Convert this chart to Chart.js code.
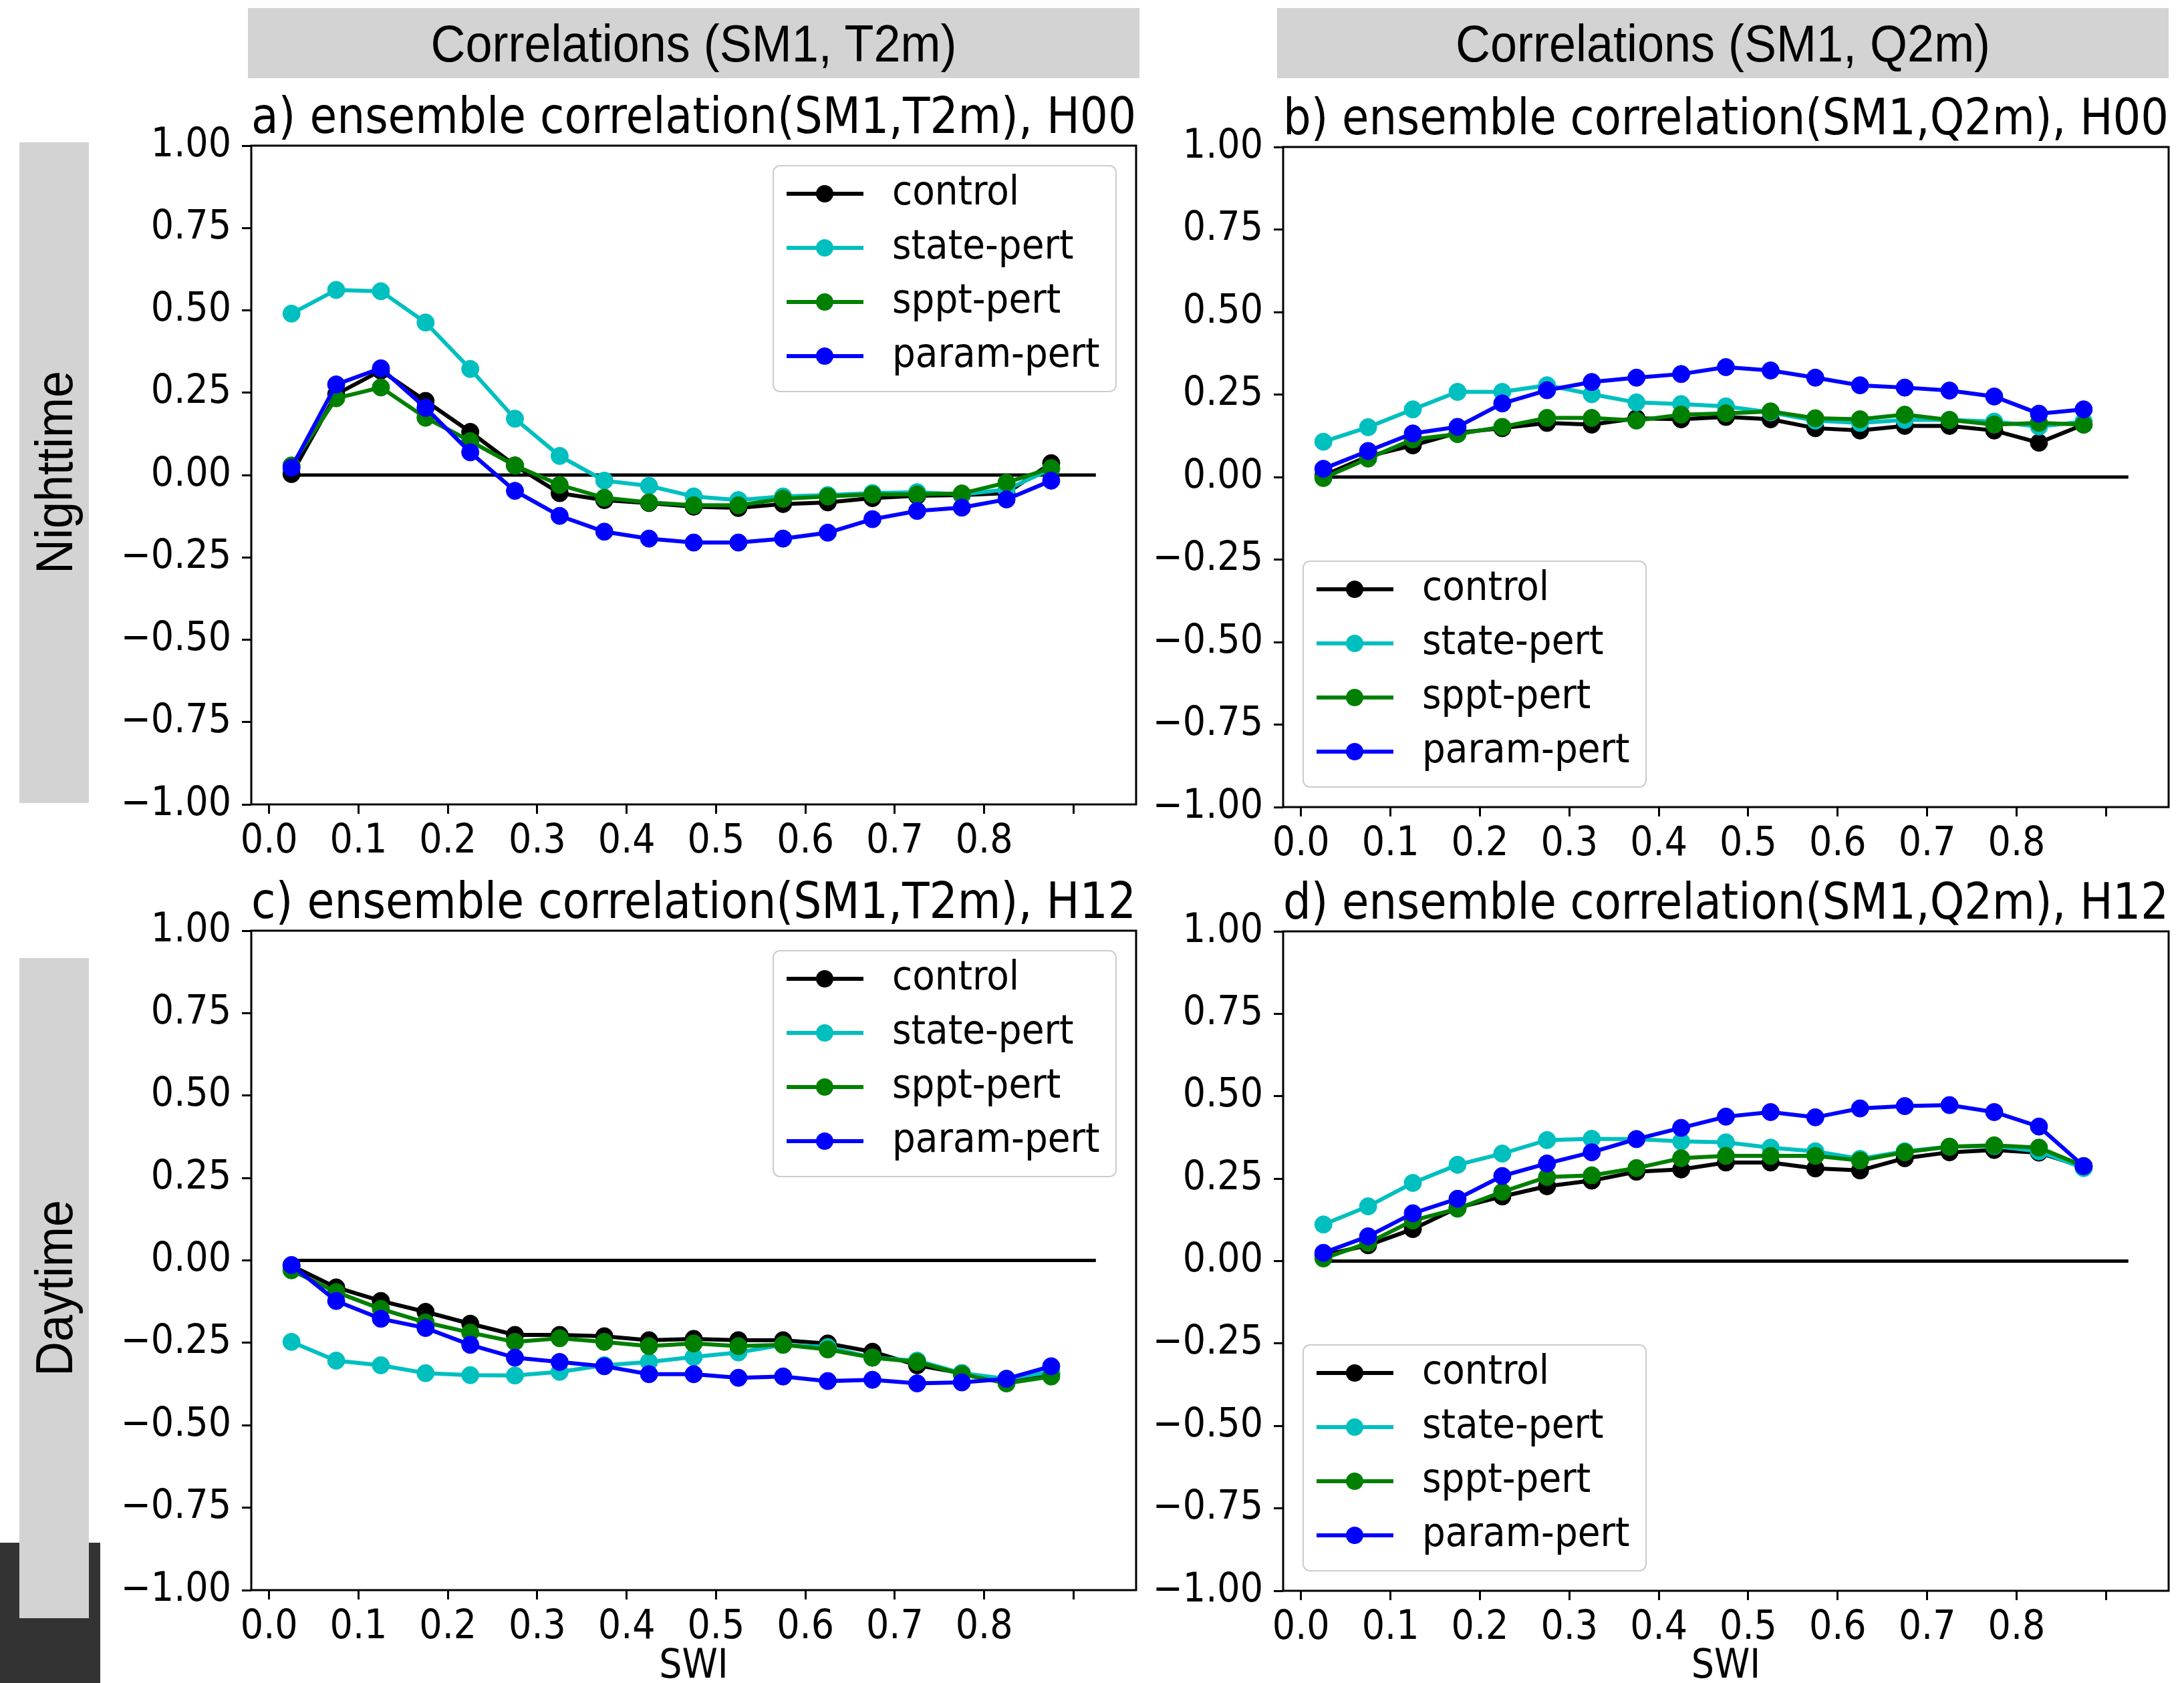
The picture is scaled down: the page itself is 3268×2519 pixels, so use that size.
<!DOCTYPE html>
<html>
<head>
<meta charset="utf-8">
<title>Ensemble correlations</title>
<script src="https://cdn.jsdelivr.net/npm/chart.js@4.4.1/dist/chart.umd.min.js"></script>
<style>
  html, body { margin: 0; padding: 0; background: #fff; }
  body { position: relative; width: 3268px; height: 2519px; overflow: hidden; }
  .bar { position: absolute; background: #d3d3d3; }
  .colhead {
    display: flex; align-items: center; justify-content: center;
    font-family: "Liberation Sans", Arial, sans-serif; font-size: 72px; color: #000;
  }
  .colhead span { display: inline-block; transform: scaleY(1.08); }
  .rowhead {
    display: flex; align-items: center; justify-content: center;
    font-family: "Liberation Sans", Arial, sans-serif; font-size: 72px; color: #000;
  }
  .rowhead span { writing-mode: vertical-rl; transform: rotate(180deg) scaleX(1.08); }
  .dark { position: absolute; background: #333333; }
  .panel { position: absolute; }
</style>
</head>
<body>
  <div class="dark" style="left:0; top:2309px; width:150px; height:210px;"></div>

  <div class="bar colhead" style="left:371px; top:12px; width:1334px; height:105px;"><span>Correlations (SM1, T2m)</span></div>
  <div class="bar colhead" style="left:1911px; top:12px; width:1334px; height:105px;"><span>Correlations (SM1, Q2m)</span></div>
  <div class="bar rowhead" style="left:29px; top:213px; width:104px; height:989px;"><span>Nighttime</span></div>
  <div class="bar rowhead" style="left:29px; top:1434px; width:104px; height:988px;"><span>Daytime</span></div>

  <div class="panel" style="left:160px; top:125px;"><canvas id="panelA" width="1620" height="1175"></canvas></div>
  <div class="panel" style="left:1704px; top:127px;"><canvas id="panelB" width="1564" height="1177"></canvas></div>
  <div class="panel" style="left:160px; top:1300px;"><canvas id="panelC" width="1620" height="1219"></canvas></div>
  <div class="panel" style="left:1704px; top:1301px;"><canvas id="panelD" width="1564" height="1218"></canvas></div>

<script>
// SWI bin centres and axis ticks
const swi = [0.025, 0.075, 0.125, 0.175, 0.225, 0.275, 0.325, 0.375, 0.425,
             0.475, 0.525, 0.575, 0.625, 0.675, 0.725, 0.775, 0.825, 0.875];
const zeroLineX = [0.025, 0.925];
const xTicks = [0, 0.1, 0.2, 0.3, 0.4, 0.5, 0.6, 0.7, 0.8, 0.9];
const xTickLabels = ["0.0", "0.1", "0.2", "0.3", "0.4", "0.5", "0.6", "0.7", "0.8", ""];
const yTicks = [-1, -0.75, -0.5, -0.25, 0, 0.25, 0.5, 0.75, 1];

const seriesNames = ["control", "state-pert", "sppt-pert", "param-pert"];
const seriesColors = ["#000000", "#00bfbf", "#008000", "#0000ff"];

// a) correlation(SM1,T2m), H00
const aControl = [0.003, 0.245, 0.317, 0.225, 0.131, 0.029, -0.055, -0.076, -0.085, -0.096, -0.100, -0.088, -0.083, -0.070, -0.063, -0.061, -0.055, 0.036];
const aState   = [0.490, 0.562, 0.558, 0.463, 0.322, 0.171, 0.058, -0.017, -0.033, -0.065, -0.076, -0.065, -0.061, -0.055, -0.052, -0.059, -0.044, 0.018];
const aSppt    = [0.029, 0.233, 0.266, 0.174, 0.103, 0.029, -0.030, -0.069, -0.083, -0.092, -0.092, -0.072, -0.065, -0.059, -0.059, -0.056, -0.023, 0.021];
const aParam   = [0.022, 0.275, 0.324, 0.204, 0.069, -0.048, -0.124, -0.172, -0.193, -0.205, -0.205, -0.193, -0.175, -0.134, -0.109, -0.099, -0.074, -0.017];

// b) correlation(SM1,Q2m), H00
const bControl = [0.004, 0.063, 0.096, 0.134, 0.148, 0.164, 0.159, 0.178, 0.175, 0.182, 0.175, 0.148, 0.141, 0.155, 0.155, 0.141, 0.104, 0.159];
const bState   = [0.107, 0.151, 0.205, 0.258, 0.258, 0.278, 0.251, 0.226, 0.221, 0.214, 0.196, 0.171, 0.164, 0.173, 0.173, 0.168, 0.153, 0.168];
const bSppt    = [-0.003, 0.056, 0.114, 0.130, 0.152, 0.179, 0.179, 0.171, 0.189, 0.193, 0.199, 0.178, 0.175, 0.189, 0.173, 0.159, 0.164, 0.159];
const bParam   = [0.025, 0.079, 0.132, 0.152, 0.223, 0.263, 0.288, 0.301, 0.312, 0.333, 0.323, 0.301, 0.278, 0.271, 0.262, 0.244, 0.192, 0.205];

// c) correlation(SM1,T2m), H12
const cControl = [-0.016, -0.082, -0.123, -0.156, -0.192, -0.226, -0.226, -0.230, -0.242, -0.238, -0.242, -0.242, -0.252, -0.277, -0.318, -0.342, -0.366, -0.345];
const cState   = [-0.247, -0.304, -0.318, -0.342, -0.348, -0.349, -0.338, -0.318, -0.308, -0.293, -0.279, -0.256, -0.263, -0.295, -0.304, -0.342, -0.359, -0.338];
const cSppt    = [-0.030, -0.096, -0.147, -0.188, -0.219, -0.247, -0.236, -0.247, -0.260, -0.252, -0.260, -0.256, -0.270, -0.295, -0.308, -0.345, -0.373, -0.352];
const cParam   = [-0.014, -0.123, -0.177, -0.205, -0.256, -0.295, -0.308, -0.321, -0.345, -0.345, -0.356, -0.352, -0.366, -0.362, -0.373, -0.370, -0.359, -0.321];

// d) correlation(SM1,Q2m), H12
const dControl = [0.018, 0.048, 0.097, 0.162, 0.196, 0.227, 0.244, 0.271, 0.278, 0.299, 0.299, 0.281, 0.275, 0.312, 0.330, 0.337, 0.329, 0.285];
const dState   = [0.111, 0.166, 0.237, 0.292, 0.326, 0.367, 0.371, 0.370, 0.363, 0.360, 0.344, 0.333, 0.310, 0.333, 0.347, 0.349, 0.333, 0.282];
const dSppt    = [0.008, 0.055, 0.123, 0.159, 0.210, 0.255, 0.260, 0.282, 0.312, 0.319, 0.319, 0.319, 0.305, 0.330, 0.347, 0.351, 0.344, 0.288];
const dParam   = [0.025, 0.075, 0.145, 0.189, 0.258, 0.296, 0.330, 0.370, 0.404, 0.438, 0.452, 0.436, 0.463, 0.470, 0.473, 0.452, 0.408, 0.288];

// the original figure uses narrow, tall glyphs
const textFont = "'DejaVu Sans Condensed', 'DejaVu Sans', sans-serif";
Chart.defaults.font.family = textFont;
Chart.defaults.color = "#000";
Chart.defaults.animation = false;

// matplotlib style box round the axes
const frame = {
  id: "frame",
  afterDatasetsDraw(chart) {
    const { ctx, chartArea: a } = chart;
    ctx.save();
    ctx.lineWidth = 3;
    ctx.strokeStyle = "#000";
    ctx.strokeRect(a.left, a.top, a.right - a.left, a.bottom - a.top);
    ctx.restore();
  },
};

// legend drawn in a corner of the plot, like plt.legend(loc=...)
const cornerLegend = {
  id: "cornerLegend",
  afterDraw(chart, args, opts) {
    const { ctx, chartArea: a } = chart;
    const w = 513, h = 338, gap = 30, r = 10;
    const left = opts.corner === "upper right" ? a.right - gap - w : a.left + gap;
    const top = opts.corner === "upper right" ? a.top + gap : a.bottom - gap - h;

    ctx.save();
    ctx.beginPath();
    ctx.moveTo(left + r, top);
    ctx.arcTo(left + w, top, left + w, top + h, r);
    ctx.arcTo(left + w, top + h, left, top + h, r);
    ctx.arcTo(left, top + h, left, top, r);
    ctx.arcTo(left, top, left + w, top, r);
    ctx.closePath();
    ctx.fillStyle = "rgba(255,255,255,0.8)";
    ctx.fill();
    ctx.lineWidth = 2;
    ctx.strokeStyle = "#cccccc";
    ctx.stroke();

    const items = chart.data.datasets.filter((ds) => ds.inLegend);
    items.forEach((ds, i) => {
      const y = top + 42 + i * 81;
      ctx.strokeStyle = ds.borderColor;
      ctx.lineWidth = ds.borderWidth;
      ctx.beginPath();
      ctx.moveTo(left + 20, y);
      ctx.lineTo(left + 135, y);
      ctx.stroke();
      ctx.fillStyle = ds.backgroundColor;
      ctx.beginPath();
      ctx.arc(left + 77, y, ds.pointRadius, 0, Math.PI * 2);
      ctx.fill();
      ctx.fillStyle = "#000";
      ctx.font = "61px " + textFont;
      ctx.textAlign = "left";
      ctx.textBaseline = "middle";
      ctx.fillText(ds.label, left + 178, y);
    });
    ctx.restore();
  },
};

function makePanel(id, title, series, legendCorner, rightPad, xAxisHeight, showSwi) {
  const datasets = series.map((values, i) => ({
    label: seriesNames[i],
    inLegend: true,
    data: values.map((v, j) => ({ x: swi[j], y: v })),
    borderColor: seriesColors[i],
    backgroundColor: seriesColors[i],
    pointBackgroundColor: seriesColors[i],
    pointBorderColor: seriesColors[i],
    borderWidth: 6,
    pointRadius: 13,
    pointBorderWidth: 1,
    tension: 0,
    order: 3 - i, // param-pert on top, as in the original
  }));

  // horizontal zero line
  datasets.push({
    label: "",
    inLegend: false,
    data: zeroLineX.map((x) => ({ x: x, y: 0 })),
    borderColor: "#000",
    borderWidth: 5,
    pointRadius: 0,
    order: 4,
  });

  return new Chart(document.getElementById(id), {
    type: "line",
    data: { datasets },
    options: {
      responsive: false,
      devicePixelRatio: 1,
      layout: { padding: { left: 0, right: rightPad, top: 0, bottom: 0 } },
      plugins: {
        legend: { display: false },
        tooltip: { enabled: false },
        title: {
          display: true,
          text: title,
          fullSize: false,
          font: { size: 75, weight: "normal", lineHeight: 1 },
          padding: { top: 17, bottom: 1 },
        },
        cornerLegend: { corner: legendCorner },
      },
      scales: {
        x: {
          type: "linear",
          min: -0.02,
          max: 0.97,
          afterBuildTicks: (scale) => {
            scale.ticks = xTicks.map((v) => ({ value: v }));
          },
          afterFit: (scale) => {
            scale.height = xAxisHeight;
          },
          ticks: {
            autoSkip: false,
            maxRotation: 0,
            padding: 6,
            font: { size: 60 },
            callback: (v, i) => xTickLabels[i],
          },
          grid: { drawOnChartArea: false, drawTicks: true, tickLength: 14, tickWidth: 3, tickColor: "#000" },
          border: { display: false },
          title: {
            display: showSwi,
            text: "SWI",
            font: { size: 60, lineHeight: 0.8 },
            padding: { top: 0, bottom: 0 },
          },
        },
        y: {
          type: "linear",
          min: -1,
          max: 1,
          afterBuildTicks: (scale) => {
            scale.ticks = yTicks.map((v) => ({ value: v }));
          },
          afterFit: (scale) => {
            scale.width = 216;
          },
          ticks: {
            padding: 16,
            font: { size: 60 },
            callback: (v) => v.toFixed(2).replace("-", "\u2212"),
          },
          grid: { drawOnChartArea: false, drawTicks: true, tickLength: 14, tickWidth: 3, tickColor: "#000" },
          border: { display: false },
        },
      },
    },
    plugins: [frame, cornerLegend],
  });
}

makePanel("panelA", "a) ensemble correlation(SM1,T2m), H00",
  [aControl, aState, aSppt, aParam], "upper right", 80, 96, false);
makePanel("panelB", "b) ensemble correlation(SM1,Q2m), H00",
  [bControl, bState, bSppt, bParam], "lower left", 23, 96, false);
makePanel("panelC", "c) ensemble correlation(SM1,T2m), H12",
  [cControl, cState, cSppt, cParam], "upper right", 80, 139, true);
makePanel("panelD", "d) ensemble correlation(SM1,Q2m), H12",
  [dControl, dState, dSppt, dParam], "lower left", 23, 138, true);
</script>
</body>
</html>
